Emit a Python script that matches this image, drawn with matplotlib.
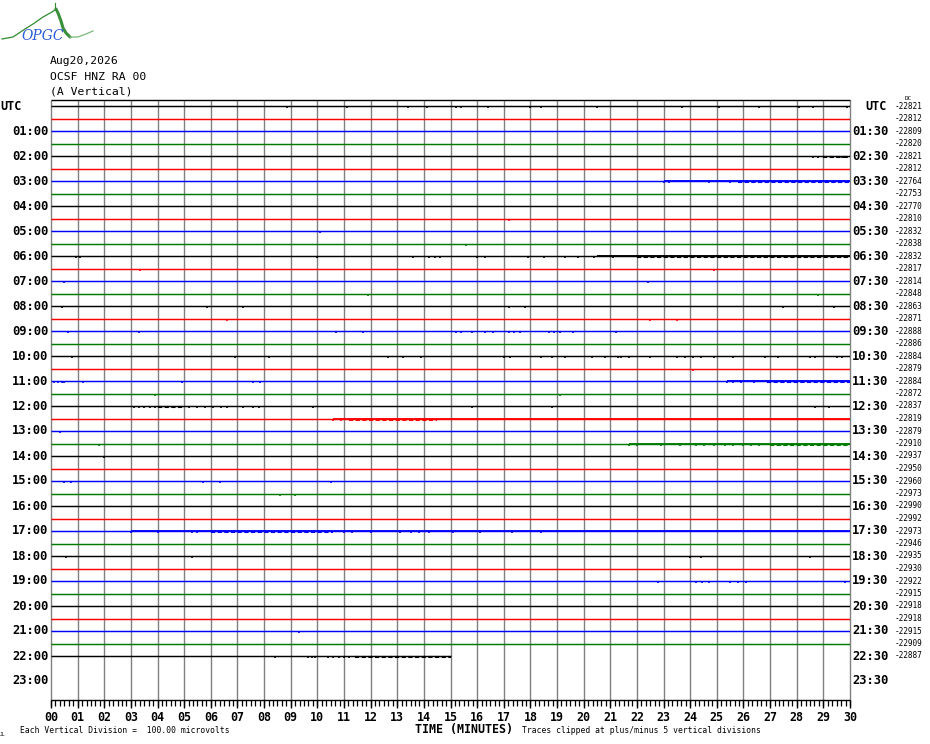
import matplotlib
matplotlib.use("Agg")
import matplotlib.pyplot as plt
import matplotlib.transforms as mtransforms

# ---------------- data ----------------
title_lines = ["Aug20,2026", "OCSF HNZ RA 00", "(A Vertical)"]
hour_labels_left = ["UTC"] + [f"{h:02d}:00" for h in range(1, 24)]
hour_labels_right = ["UTC"] + [f"{h:02d}:30" for h in range(1, 24)]
minute_labels = [f"{m:02d}" for m in range(0, 31)]

dc_values = [-22821, -22812, -22809, -22820, -22821, -22812, -22764, -22753,
             -22770, -22810, -22832, -22838, -22832, -22817, -22814, -22848,
             -22863, -22871, -22888, -22886, -22884, -22879, -22884, -22872,
             -22837, -22819, -22879, -22910, -22937, -22950, -22960, -22973,
             -22990, -22992, -22973, -22946, -22935, -22930, -22922, -22915,
             -22918, -22918, -22915, -22909, -22887]
n_traces = len(dc_values)          # one trace per 30 minutes, 00:00 .. 22:00
last_trace_end_min = 15.0          # data stops at 22:15
trace_colors = ["#000000", "#ff0000", "#0000ff", "#007a00"]

# isolated spikes (minute within the 30-min trace), keyed by trace index
spikes = {
    0: [8.85, 11.1, 13.4, 14.1, 15.2, 15.4, 16.4, 18.0, 18.4, 20.5, 23.7, 25.1, 26.6, 28.1, 28.6, 29.9],
    4: [28.6, 28.8, 29.1, 29.3, 29.5, 29.7, 29.9],
    6: [23.0, 23.2, 24.7, 25.5],
    9: [17.2],
    10: [10.1],
    11: [15.6],
    12: [0.95, 1.1, 10.0, 13.6, 14.2, 14.4, 14.6, 16.0, 16.3, 17.9, 18.5, 19.3, 19.8, 20.4, 21.1],
    13: [3.35, 24.9],
    14: [0.5, 22.4],
    15: [11.9, 28.8],
    16: [0.4, 5.85, 7.2, 17.2, 17.8, 27.5, 29.4],
    17: [6.6, 22.5, 23.5],
    18: [0.65, 3.3, 10.7, 11.7, 15.2, 15.4, 15.8, 16.3, 16.6, 17.2, 17.4, 17.6,
         18.7, 18.9, 19.1, 19.6, 21.2],
    20: [0.8, 6.9, 8.2, 12.65, 13.2, 13.9, 17.0, 17.25, 18.4, 18.8, 19.3, 20.3,
         20.8, 21.3, 21.4, 21.7, 22.5, 23.5, 23.8, 24.1, 24.4, 24.9, 25.6, 26.8,
         27.3, 28.5, 28.7, 29.5, 29.7],
    21: [24.1],
    22: [0.1, 0.25, 0.4, 0.5, 1.2, 4.9, 7.6, 7.85, 25.4, 25.6, 25.9, 26.4],
    23: [3.9, 19.1],
    24: [3.1, 3.3, 3.5, 3.7, 3.9, 5.2, 5.5, 5.8, 6.1, 6.4, 6.6, 7.2, 7.6, 7.8,
         9.85, 15.8, 18.8, 28.7, 29.2],
    25: [10.6, 10.9],
    26: [0.35],
    27: [1.8, 21.7, 22.0, 22.9, 23.6, 24.2, 24.5, 24.9, 25.3, 25.6, 26.0, 26.3, 26.6],
    28: [2.0],
    30: [0.5, 0.75, 5.7, 6.35, 10.5],
    31: [8.6, 9.15],
    34: [3.0, 4.0, 5.3, 5.5, 11.0, 11.3, 12.0, 13.1, 13.5, 13.8, 14.2, 15.1, 16.1, 17.3, 18.4],
    36: [0.55, 5.3, 24.0, 24.4, 28.5],
    38: [22.8, 24.2, 24.45, 24.7, 25.5, 25.8, 26.1, 29.8],
    42: [9.3],
    44: [8.4, 9.65, 9.8, 9.9, 10.4, 10.6, 10.8, 11.0, 11.2],
}

# continuous noisy stretches (start_min, end_min)
noise_bands = {
    4: [(29.0, 29.9)],
    6: [(25.8, 30.0)],
    12: [(22.0, 30.0)],
    22: [(26.9, 30.0)],
    24: [(4.0, 5.0)],
    25: [(11.2, 14.5)],
    27: [(27.0, 30.0)],
    34: [(6.0, 10.6)],
    44: [(11.4, 15.0)],
}

# stretches where trace shows slight offset (drawn a bit heavier)
active_spans = {
    6: (23.0, 30.0),
    12: (20.5, 30.0),
    22: (25.4, 30.0),
    25: (10.6, 30.0),
    27: (21.7, 30.0),
    34: (3.0, 30.0),
}

# ---------------- figure ----------------
W, H = 930, 744
fig = plt.figure(figsize=(W / 100, H / 100), dpi=100)
fig.patch.set_facecolor("white")
MONO = "DejaVu Sans Mono"


def fx(x):
    return x / W


def fy(y):
    return 1 - y / H


# logo
lax = fig.add_axes([0, fy(45), 100 / W, 45 / H])
lax.set_xlim(0, 100)
lax.set_ylim(45, 0)
lax.axis("off")
lax.plot([2, 13, 25, 33, 43, 52, 56], [39, 37, 29, 24, 17, 12, 9], color="#2f8a2f", lw=0.9)
lax.plot([56, 58, 61, 63, 66, 70], [9, 13, 21, 28, 33, 37], color="#3a8f3a", lw=2.2, solid_capstyle="round")
lax.plot([70, 78, 86, 93], [37, 37, 34, 31], color="#7ab87a", lw=0.9)
lax.plot([55, 55], [3, 9], color="#2f8a2f", lw=0.8)
lax.text(21, 36, "OPGC", color="#2a5ad8", fontsize=10, style="italic",
         family="DejaVu Serif", va="center", ha="left")

# title
for t, y in zip(title_lines, [61, 76.5, 91]):
    fig.text(fx(50), fy(y), t, family=MONO, fontsize=8.2, va="center", ha="left")

# main axes
top_px, bot_px, left_px, right_px = 100, 700, 51, 850
row0_px, row_px = 106, 12.5
ax = fig.add_axes([fx(left_px), fy(bot_px), (right_px - left_px) / W, (bot_px - top_px) / H])
y_top = (top_px - row0_px) / row_px
y_bot = (bot_px - row0_px) / row_px
ax.set_xlim(0, 30)
ax.set_ylim(y_bot, y_top)
ax.axis("off")

# vertical minute grid
ax.vlines(range(0, 31), y_top, y_bot, color="#808080", lw=1.0, zorder=1, clip_on=False)
# top border
ax.hlines(y_top, 0, 30, color="black", lw=1.0, zorder=3, clip_on=False)

# traces
for k in range(n_traces):
    c = trace_colors[k % 4]
    end = 30.0 if k < n_traces - 1 else last_trace_end_min
    ax.hlines(k, 0, end, color=c, lw=1.05, zorder=2)
    if k in active_spans:
        a, b = active_spans[k]
        ax.hlines(k + 0.03, a, b, color=c, lw=1.35, zorder=2)
    if k in noise_bands:
        for a, b in noise_bands[k]:
            ax.hlines(k + 0.1, a, b, color=c, lw=1.5, zorder=2,
                      linestyles=[(0, (2.0, 1.2))])
    if k in spikes:
        ts = spikes[k]
        ax.vlines(ts, [k] * len(ts), [k + 0.16] * len(ts), color=c, lw=1.2, zorder=2)

# hour labels
blend = mtransforms.blended_transform_factory(ax.transAxes, ax.transData)
xs = lambda px: (px - left_px) / (right_px - left_px)
for i, (lab_l, lab_r) in enumerate(zip(hour_labels_left, hour_labels_right)):
    yrow = 2 * i
    if i == 0:
        ax.text(xs(0), yrow, lab_l, transform=blend, family=MONO, weight="bold",
                fontsize=8.5, ha="left", va="center", clip_on=False)
        ax.text(xs(865), yrow, lab_r, transform=blend, family=MONO, weight="bold",
                fontsize=8.5, ha="left", va="center", clip_on=False)
    else:
        ax.text(xs(48.5), yrow, lab_l, transform=blend, family=MONO, weight="bold",
                fontsize=8.7, ha="right", va="center", clip_on=False)
        ax.text(xs(852), yrow, lab_r, transform=blend, family=MONO, weight="bold",
                fontsize=8.7, ha="left", va="center", clip_on=False)

# DC values
for k, v in enumerate(dc_values):
    ax.text(xs(895), k, f"{v}", transform=blend, family=MONO, fontsize=5.6,
            ha="left", va="center", clip_on=False)
ax.text(xs(905), -0.62, "DC", transform=blend, family=MONO, fontsize=4.3,
        ha="left", va="center", clip_on=False)

# time ruler
ax.hlines(y_bot, 0, 30, color="black", lw=1.0, clip_on=False, zorder=3)
minor = [m / 6 for m in range(0, 181)]
ax.vlines(minor, y_bot, y_bot + 6 / row_px, color="black", lw=0.9, clip_on=False)
ax.vlines(range(0, 31), y_bot, y_bot + 8 / row_px, color="black", lw=1.0, clip_on=False)
for m, lab in enumerate(minute_labels):
    ax.text(m, y_bot + 17.5 / row_px, lab, family=MONO, weight="bold", fontsize=8.4,
            ha="center", va="center", clip_on=False)

# footer
fig.text(fx(20), fy(730.5), "Each Vertical Division =  100.00 microvolts", family=MONO,
         fontsize=5.8, ha="left", va="center")
fig.text(fx(415), fy(729.5), "TIME (MINUTES)", family=MONO, weight="bold", fontsize=8.4,
         ha="left", va="center")
fig.text(fx(522), fy(730.5), "Traces clipped at plus/minus 5 vertical divisions", family=MONO,
         fontsize=5.8, ha="left", va="center")
fig.text(fx(0), fy(734), "JL", family=MONO, fontsize=3.5, ha="left", va="center")

fig.savefig("out.png", dpi=100, facecolor="white")
